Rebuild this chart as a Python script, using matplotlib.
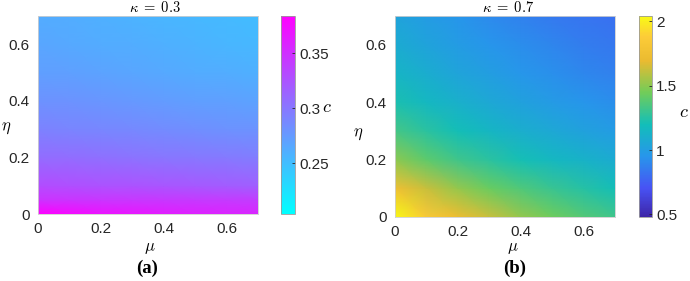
import numpy as np
import matplotlib
matplotlib.use("Agg")
import matplotlib.pyplot as plt
from matplotlib.colors import LinearSegmentedColormap
from matplotlib.font_manager import FontProperties

plt.rcParams['mathtext.fontset'] = 'cm'

# ---------------- data ----------------
mu = [0.0, 0.1, 0.2, 0.3, 0.4, 0.5, 0.6, 0.7]
eta_a = [0.0, 0.05, 0.1, 0.2, 0.3, 0.4, 0.5, 0.6, 0.7]
c_a = [
    [0.384, 0.377, 0.371, 0.368, 0.364, 0.361, 0.359, 0.357],
    [0.348, 0.347, 0.346, 0.345, 0.344, 0.343, 0.342, 0.341],
    [0.330, 0.328, 0.326, 0.325, 0.323, 0.321, 0.319, 0.317],
    [0.308, 0.307, 0.305, 0.303, 0.301, 0.299, 0.298, 0.296],
    [0.292, 0.290, 0.289, 0.287, 0.285, 0.283, 0.281, 0.280],
    [0.281, 0.280, 0.278, 0.276, 0.274, 0.272, 0.271, 0.269],
    [0.272, 0.271, 0.269, 0.267, 0.265, 0.263, 0.262, 0.260],
    [0.267, 0.265, 0.263, 0.262, 0.260, 0.258, 0.256, 0.254],
    [0.263, 0.262, 0.260, 0.258, 0.256, 0.254, 0.253, 0.251],
]
eta_b = [0.0, 0.1, 0.2, 0.3, 0.4, 0.5, 0.6, 0.7]
c_b = [
    [2.03, 1.85, 1.72, 1.62, 1.52, 1.44, 1.37, 1.32],
    [1.75, 1.62, 1.52, 1.43, 1.36, 1.30, 1.25, 1.20],
    [1.50, 1.40, 1.32, 1.26, 1.21, 1.16, 1.12, 1.08],
    [1.33, 1.26, 1.20, 1.15, 1.10, 1.06, 1.02, 0.99],
    [1.22, 1.16, 1.11, 1.06, 1.02, 0.98, 0.95, 0.92],
    [1.14, 1.09, 1.04, 1.00, 0.96, 0.93, 0.90, 0.87],
    [1.08, 1.03, 0.99, 0.95, 0.92, 0.89, 0.86, 0.84],
    [1.03, 0.99, 0.95, 0.91, 0.88, 0.85, 0.83, 0.81],
]
clim_a = (0.204, 0.384)
clim_b = (0.48, 2.04)
ticks_xy = [0, 0.2, 0.4, 0.6]
tick_labels_xy = ['0', '0.2', '0.4', '0.6']
cb_ticks_a = [0.25, 0.3, 0.35]
cb_labels_a = ['0.25', '0.3', '0.35']
cb_ticks_b = [0.5, 1, 1.5, 2]
cb_labels_b = ['0.5', '1', '1.5', '2']

# parula approximation
parula = LinearSegmentedColormap.from_list('parula', [
    (0.000, (0.2422, 0.1504, 0.6603)),
    (0.143, (0.2810, 0.3228, 0.9579)),
    (0.302, (0.1540, 0.5902, 0.9218)),
    (0.460, (0.0704, 0.7457, 0.7258)),
    (0.619, (0.4420, 0.8022, 0.3515)),
    (0.778, (0.9184, 0.7308, 0.1890)),
    (0.900, (0.9900, 0.8000, 0.2200)),
    (1.000, (0.9769, 0.9839, 0.0805)),
])

W, H = 690, 281
fig = plt.figure(figsize=(W / 100, H / 100), dpi=100)

def box(x0, y0, x1, y1):
    return [x0 / W, 1 - y1 / H, (x1 - x0) / W, (y1 - y0) / H]

tick_font = dict(family='Liberation Sans', size=11)
tag_font = FontProperties(family='Liberation Serif', weight='bold', size=13.5)

def panel(axrect, cbrect, eta, c, cmap, clim, cbt, cbl, title, tag,
          label_pos):
    ax = fig.add_axes(box(*axrect))
    m = ax.pcolormesh(mu, eta, np.array(c), shading='gouraud', cmap=cmap,
                      vmin=clim[0], vmax=clim[1])
    ax.set_xlim(0, 0.7)
    ax.set_ylim(0, 0.7)
    ax.set_xticks(ticks_xy)
    ax.set_xticklabels(tick_labels_xy, **tick_font)
    ax.set_yticks(ticks_xy)
    ax.set_yticklabels(tick_labels_xy, **tick_font)
    ax.tick_params(length=0, pad=6, colors='#262626')
    for s in ax.spines.values():
        s.set_color('#cfcfcf')
        s.set_linewidth(0.6)
    cax = fig.add_axes(box(*cbrect))
    cb = fig.colorbar(m, cax=cax)
    cb.set_ticks(cbt)
    cb.set_ticklabels(cbl)
    for t in cax.get_yticklabels():
        t.set_fontfamily('Liberation Sans')
        t.set_fontsize(11)
    cax.tick_params(length=2, direction='in', pad=3, colors='#262626',
                    width=0.6)
    cb.outline.set_edgecolor('#9a9a9a')
    cb.outline.set_linewidth(0.6)
    (tx, ty), (mx, my), (ex, ey), (gx, gy), (cx, cy) = label_pos
    fig.text(tx / W, 1 - ty / H, title, ha='center', va='center', fontsize=10.5)
    fig.text(mx / W, 1 - my / H, r'$\mu$', ha='center', va='baseline', fontsize=12)
    fig.text(ex / W, 1 - ey / H, r'$\eta$', ha='center', va='center', fontsize=12)
    fig.text(gx / W, 1 - gy / H, tag, ha='center', va='center',
             fontproperties=tag_font)
    fig.text(cx / W, 1 - cy / H, r'$c$', ha='center', va='center', fontsize=13)

panel((38, 16, 258, 214), (281, 16, 295, 214), eta_a, c_a, 'cool', clim_a,
      cb_ticks_a, cb_labels_a, r'$\kappa\;=\;0.3$', '(a)',
      [(155, 8), (150, 251), (6, 127), (147, 268), (327, 107)])
panel((395, 16, 615, 217), (639, 16, 652, 217), eta_b, c_b, parula, clim_b,
      cb_ticks_b, cb_labels_b, r'$\kappa\;=\;0.7$', '(b)',
      [(508, 8), (513, 251), (358, 133), (515, 268), (684, 112)])

fig.savefig('out.png', dpi=100)
